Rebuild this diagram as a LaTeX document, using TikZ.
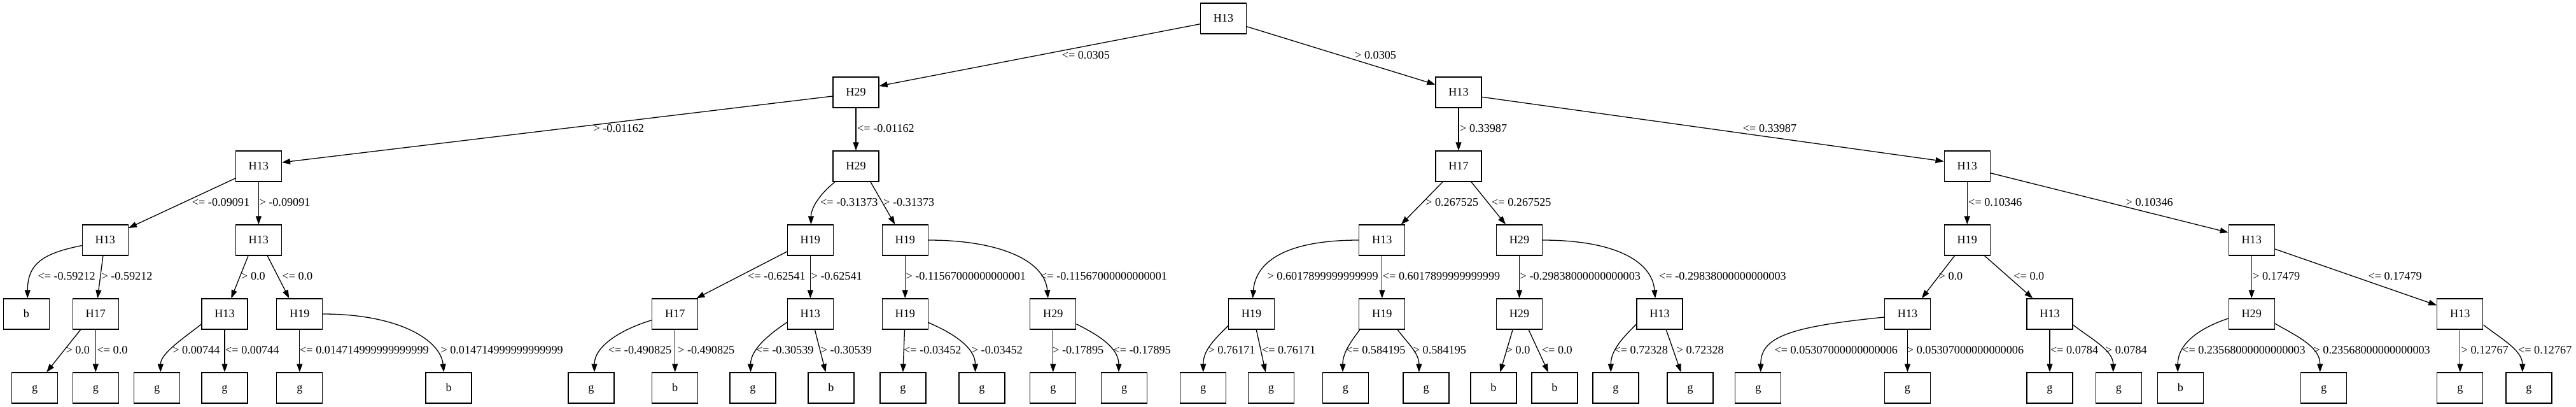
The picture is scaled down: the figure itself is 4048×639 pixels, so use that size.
\documentclass[tikz,border=0pt]{standalone}
\usepackage{fontspec}
\setmainfont{Liberation Serif}
\usetikzlibrary{arrows.meta}
\newcommand\tfont{\fontsize{18.2}{20}\selectfont}
\begin{document}
\begin{tikzpicture}[x=1pt,y=-1pt,
  tn/.style={draw,line width=1.3pt,minimum width=72pt,minimum height=48pt,inner sep=0pt,font=\tfont,text height=11.5pt,text depth=0pt},
  lb/.style={anchor=west,inner sep=0pt,font=\tfont,text height=11.5pt,text depth=0pt},
  ed/.style={line width=1.3pt,-{Triangle[length=13pt,width=9pt]}}]
\useasboundingbox (0,0) rectangle (4048,639);
% level 0-3
\node[tn] (n0) at (1922.5,29) {H13};
\node[tn] (n1) at (1345,145) {H29};
\node[tn] (n2) at (2292,145) {H13};
\node[tn] (n3) at (406.4,261) {H13};
\node[tn] (n4) at (1345,261) {H29};
\node[tn] (n5) at (2292,261) {H17};
\node[tn] (n6) at (3091.2,261) {H13};
\node[tn] (n7) at (165.3,377) {H13};
\node[tn] (n8) at (406.4,377) {H13};
\node[tn] (n9) at (1273.4,377) {H19};
\node[tn] (n10) at (1422.3,377) {H19};
\node[tn] (n11) at (2171.8,377) {H13};
\node[tn] (n12) at (2387.5,377) {H29};
\node[tn] (n13) at (3091.2,377) {H19};
\node[tn] (n14) at (3538.2,377) {H13};
% level 4
\node[tn] (n15) at (41.3,493) {b};
\node[tn] (n16) at (150.3,493) {H17};
\node[tn] (n17) at (353,493) {H13};
\node[tn] (n18) at (470.8,493) {H19};
\node[tn] (n19) at (1060.7,493) {H17};
\node[tn] (n20) at (1273.4,493) {H13};
\node[tn] (n21) at (1422.3,493) {H19};
\node[tn] (n22) at (1654.8,493) {H29};
\node[tn] (n23) at (1966.5,493) {H19};
\node[tn] (n24) at (2171.8,493) {H19};
\node[tn] (n25) at (2387.5,493) {H29};
\node[tn] (n26) at (2608,493) {H13};
\node[tn] (n27) at (2997.5,493) {H13};
\node[tn] (n28) at (3221,493) {H13};
\node[tn] (n29) at (3538.2,493) {H29};
\node[tn] (n30) at (3865.8,493) {H13};
% level 5
\node[tn] (a1) at (54.7,609) {g};
\node[tn] (a2) at (150.3,609) {g};
\node[tn] (a3) at (246.7,609) {g};
\node[tn] (a4) at (353,609) {g};
\node[tn] (a5) at (470.8,609) {g};
\node[tn] (a6) at (705.1,609) {b};
\node[tn] (a7) at (929,609) {g};
\node[tn] (a8) at (1060.7,609) {b};
\node[tn] (a9) at (1183,609) {g};
\node[tn] (a10) at (1306,609) {b};
\node[tn] (a11) at (1418.9,609) {g};
\node[tn] (a12) at (1542.9,609) {g};
\node[tn] (a13) at (1654.8,609) {g};
\node[tn] (a14) at (1766.7,609) {g};
\node[tn] (a15) at (1890.7,609) {g};
\node[tn] (a16) at (1997.5,609) {g};
\node[tn] (a17) at (2114.5,609) {g};
\node[tn] (a18) at (2241.1,609) {g};
\node[tn] (a19) at (2347,609) {b};
\node[tn] (a20) at (2443,609) {b};
\node[tn] (a21) at (2539,609) {g};
\node[tn] (a22) at (2656.1,609) {g};
\node[tn] (a23) at (2762.8,609) {g};
\node[tn] (a24) at (2997.5,609) {g};
\node[tn] (a25) at (3221,609) {g};
\node[tn] (a26) at (3329.3,609) {g};
\node[tn] (a27) at (3426.4,609) {b};
\node[tn] (a28) at (3651.7,609) {g};
\node[tn] (a29) at (3865.8,609) {g};
\node[tn] (a30) at (3974,609) {g};
% edges rows 0-2
\draw[ed] ([yshift=-8.7]n0.west) -- ([yshift=10]n1.east);
\draw[ed] ([yshift=-12.7]n0.east) -- ([yshift=12.3]n2.west);
\draw[ed] ([yshift=-6]n1.west) -- ([yshift=6]n3.east);
\draw[ed] (n1.south) -- (n4.north);
\draw[ed] (n2.south) -- (n5.north);
\draw[ed] ([yshift=-7.3]n2.east) -- ([yshift=7.7]n6.west);
% row 2-3
\draw[ed] ([yshift=-19]n3.west) -- ([yshift=19]n7.east);
\draw[ed] (n3.south) -- (n8.north);
\draw[ed] ([xshift=-33]n4.south) .. controls +(-25,20) and +(0,-25) .. ([xshift=1]n9.north);
\draw[ed] ([xshift=23]n4.south) -- ([xshift=-16]n10.north);
\draw[ed] ([xshift=-25]n5.south) -- ([xshift=30]n11.north);
\draw[ed] ([xshift=20]n5.south) -- ([xshift=-21.5]n12.north);
\draw[ed] (n6.south) -- (n13.north);
\draw[ed] ([yshift=-10.7]n6.east) -- ([yshift=12]n14.west);
% row 3-4
\draw[ed] ([yshift=-8.5]n7.west) .. controls +(-60,12) and +(0,-55) .. ([xshift=2]n15.north);
\draw[ed] ([xshift=-3.4]n7.south) -- ([xshift=3]n16.north);
\draw[ed] ([xshift=-16.4]n8.south) -- ([xshift=10.3]n17.north);
\draw[ed] ([xshift=13.8]n8.south) -- ([xshift=-16.4]n18.north);
\draw[ed] ([yshift=-18]n9.west) -- ([xshift=-3]n19.north east);
\draw[ed] (n9.south) -- (n20.north);
\draw[ed] (n10.south) -- (n21.north);
\draw[ed] (n10.east) .. controls +(110,0) and +(-5,-60) .. ([xshift=-8]n22.north);
\draw[ed] (n11.west) .. controls +(-110,0) and +(5,-60) .. ([xshift=2]n23.north);
\draw[ed] (n11.south) -- (n24.north);
\draw[ed] (n12.south) -- (n25.north);
\draw[ed] (n12.east) .. controls +(110,0) and +(-5,-60) .. ([xshift=-7]n26.north);
\draw[ed] ([xshift=-19.8]n13.south) -- ([xshift=22.3]n27.north);
\draw[ed] ([xshift=27.5]n13.south) -- ([xshift=-26.7]n28.north);
\draw[ed] (n14.south) -- (n29.north);
\draw[ed] ([yshift=-14]n14.east) -- ([yshift=13.7]n30.west);
% row 4-5
\draw[ed] ([xshift=-23.7]n16.south) -- ([xshift=18.5]a1.north);
\draw[ed] (n16.south) -- (a2.north);
\draw[ed] ([yshift=-16]n17.west) .. controls +(-25,20) and +(0,-30) .. ([xshift=5.6]a3.north);
\draw[ed] (n17.south) -- (a4.north);
\draw[ed] (n18.south) -- (a5.north);
\draw[ed] (n18.east) .. controls +(120,0) and +(-5,-50) .. ([xshift=-7.7]a6.north);
\draw[ed] ([yshift=-9.7]n19.west) .. controls +(-50,15) and +(0,-40) .. ([xshift=5]a7.north);
\draw[ed] (n19.south) -- (a8.north);
\draw[ed] ([yshift=-13]n20.west) .. controls +(-30,20) and +(0,-35) .. ([xshift=-3.5]a9.north);
\draw[ed] ([xshift=7]n20.south) -- ([xshift=-8.5]a10.north);
\draw[ed] ([xshift=-0.8]n21.south) -- (a11.north);
\draw[ed] ([yshift=-13.5]n21.east) .. controls +(35,15) and +(0,-40) .. ([xshift=-10.4]a12.north);
\draw[ed] (n22.south) -- (a13.north);
\draw[ed] ([yshift=-15.8]n22.east) .. controls +(30,15) and +(0,-40) .. ([xshift=-8.7]a14.north);
\draw[ed] ([yshift=-18.5]n23.west) .. controls +(-20,20) and +(0,-35) .. (a15.north);
\draw[ed] ([xshift=7.7]n23.south) -- ([xshift=-8.7]a16.north);
\draw[ed] ([xshift=-35]n24.south) .. controls +(-15,20) and +(0,-30) .. ([xshift=-4.5]a17.north);
\draw[ed] ([xshift=24.3]n24.south) .. controls +(15,20) and +(0,-30) .. ([xshift=-11.2]a18.north);
\draw[ed] ([xshift=-10.4]n25.south) -- ([xshift=10.3]a19.north);
\draw[ed] ([xshift=14.6]n25.south) -- ([xshift=-10]a20.north);
\draw[ed] ([yshift=-16]n26.west) .. controls +(-20,20) and +(0,-35) .. ([xshift=-7.7]a21.north);
\draw[ed] ([xshift=10.2]n26.south) -- ([xshift=-14.6]a22.north);
\draw[ed] ([yshift=-5]n27.west) .. controls +(-150,15) and +(0,-55) .. ([xshift=4]a23.north);
\draw[ed] (n27.south) -- (a24.north);
\draw[ed] (n28.south) -- (a25.north);
\draw[ed] ([yshift=-17]n28.east) .. controls +(25,20) and +(0,-35) .. ([xshift=-8.6]a26.north);
\draw[ed] ([yshift=-7]n29.west) .. controls +(-45,15) and +(0,-45) .. ([xshift=-4.2]a27.north);
\draw[ed] ([yshift=-15]n29.east) .. controls +(35,20) and +(0,-40) .. ([xshift=-6]a28.north);
\draw[ed] (n30.south) -- (a29.north);
\draw[ed] ([yshift=-17]n30.east) .. controls +(25,20) and +(0,-35) .. ([xshift=-10.2]a30.north);
% labels row A
\node[lb] (lA1) at (1668.6,86.7) {<= 0.0305};
\node[lb] (lA2) at (2129,86.7) {> 0.0305};
% row B
\node[lb] (lB1) at (932.4,202) {> -0.01162};
\node[lb] (lB2) at (1347,202) {<= -0.01162};
\node[lb] (lB3) at (2294,202) {> 0.33987};
\node[lb] (lB4) at (2738.7,202) {<= 0.33987};
% row C
\node[lb] (lC1) at (301.7,318) {<= -0.09091};
\node[lb] (lC2) at (407.3,318) {> -0.09091};
\node[lb] (lC3) at (1289,318) {<= -0.31373};
\node[lb] (lC4) at (1388,318) {> -0.31373};
\node[lb] (lC5) at (2240,318) {> 0.267525};
\node[lb] (lC6) at (2344,318) {<= 0.267525};
\node[lb] (lC7) at (3093,318) {<= 0.10346};
\node[lb] (lC8) at (3340.5,318) {> 0.10346};
% row D
\node[lb] (lD1) at (59.3,434) {<= -0.59212};
\node[lb] (lD2) at (159.3,434) {> -0.59212};
\node[lb] (lD3) at (379,434) {> 0.0};
\node[lb] (lD4) at (443.3,434) {<= 0.0};
\node[lb] (lD5) at (1175.2,434) {<= -0.62541};
\node[lb] (lD6) at (1274.5,434) {> -0.62541};
\node[lb] (lD7) at (1423.3,434) {> -0.11567000000000001};
\node[lb] (lD8) at (1635,434) {<= -0.11567000000000001};
\node[lb] (lD9) at (1991.4,434) {> 0.6017899999999999};
\node[lb] (lD10) at (2172.7,434) {<= 0.6017899999999999};
\node[lb] (lD11) at (2388.5,434) {> -0.29838000000000003};
\node[lb] (lD12) at (2607,434) {<= -0.29838000000000003};
\node[lb] (lD13) at (3046.5,434) {> 0.0};
\node[lb] (lD14) at (3164.2,434) {<= 0.0};
\node[lb] (lD15) at (3540,434) {> 0.17479};
\node[lb] (lD16) at (3721.3,434) {<= 0.17479};
% row E
\node[lb] (lE1) at (103.3,550) {> 0.0};
\node[lb] (lE2) at (152.4,550) {<= 0.0};
\node[lb] (lE3) at (271.2,550) {> 0.00744};
\node[lb] (lE4) at (354,550) {<= 0.00744};
\node[lb] (lE5) at (471,550) {<= 0.014714999999999999};
\node[lb] (lE6) at (692.3,550) {> 0.014714999999999999};
\node[lb] (lE7) at (955.7,550) {<= -0.490825};
\node[lb] (lE8) at (1065,550) {> -0.490825};
\node[lb] (lE9) at (1188,550) {<= -0.30539};
\node[lb] (lE10) at (1289.7,550) {> -0.30539};
\node[lb] (lE11) at (1420,550) {<= -0.03452};
\node[lb] (lE12) at (1526.7,550) {> -0.03452};
\node[lb] (lE13) at (1654,550) {> -0.17895};
\node[lb] (lE14) at (1749.3,550) {<= -0.17895};
\node[lb] (lE15) at (1898.4,550) {> 0.76171};
\node[lb] (lE16) at (1982.8,550) {<= 0.76171};
\node[lb] (lE17) at (2115,550) {<= 0.584195};
\node[lb] (lE18) at (2220.7,550) {> 0.584195};
\node[lb] (lE19) at (2366.7,550) {> 0.0};
\node[lb] (lE20) at (2422.7,550) {<= 0.0};
\node[lb] (lE21) at (2536.4,550) {<= 0.72328};
\node[lb] (lE22) at (2634.6,550) {> 0.72328};
\node[lb] (lE23) at (2788.3,550) {<= 0.05307000000000006};
\node[lb] (lE24) at (2996.7,550) {> 0.05307000000000006};
\node[lb] (lE25) at (3221.8,550) {<= 0.0784};
\node[lb] (lE26) at (3308.7,550) {> 0.0784};
\node[lb] (lE27) at (3429,550) {<= 0.23568000000000003};
\node[lb] (lE28) at (3635.4,550) {> 0.23568000000000003};
\node[lb] (lE29) at (3867.5,550) {> 0.12767};
\node[lb] (lE30) at (3956.9,550) {<= 0.12767};
\end{tikzpicture}
\end{document}
